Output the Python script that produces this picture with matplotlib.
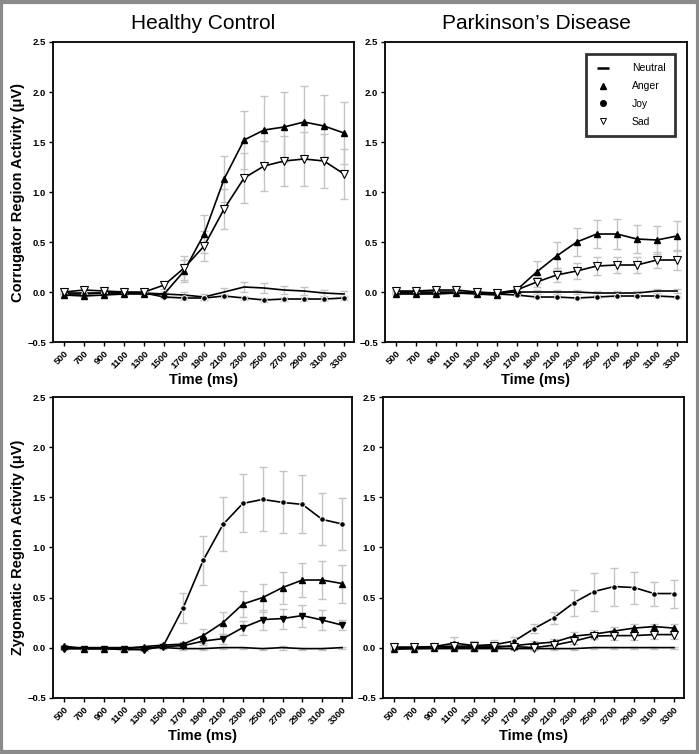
# Facial EMG time courses: corrugator / zygomatic, healthy control vs PD

import matplotlib
matplotlib.use("Agg")
import matplotlib.pyplot as plt
from matplotlib.lines import Line2D
from matplotlib.patches import Rectangle

plt.rcParams['font.family'] = ['Liberation Sans', 'DejaVu Sans']

time_ms = [500, 700, 900, 1100, 1300, 1500, 1700, 1900,
           2100, 2300, 2500, 2700, 2900, 3100, 3300]

# Healthy control, corrugator
hc_corr_neutral = [-0.01, -0.01, -0.01, -0.01, -0.01, -0.02, -0.03, -0.05,
                   0.00, 0.05, 0.04, 0.02, 0.01, -0.01, -0.02]
hc_corr_neutral_se = [0.01, 0.01, 0.01, 0.01, 0.01, 0.02, 0.03, 0.03,
                      0.04, 0.05, 0.05, 0.04, 0.04, 0.03, 0.03]
hc_corr_anger = [-0.03, -0.04, -0.03, -0.02, -0.02, -0.02, 0.21, 0.58,
                 1.13, 1.52, 1.62, 1.65, 1.70, 1.66, 1.59]
hc_corr_anger_se = [0.01, 0.01, 0.01, 0.01, 0.01, 0.02, 0.11, 0.19,
                    0.23, 0.29, 0.34, 0.35, 0.36, 0.31, 0.31]
hc_corr_joy = [-0.02, -0.02, -0.01, -0.01, -0.01, -0.05, -0.06, -0.06,
               -0.04, -0.06, -0.08, -0.07, -0.07, -0.07, -0.06]
hc_corr_joy_se = [0.01, 0.01, 0.01, 0.01, 0.01, 0.01, 0.02, 0.02,
                  0.02, 0.02, 0.02, 0.02, 0.02, 0.02, 0.02]
hc_corr_sad = [0.00, 0.02, 0.01, 0.00, 0.00, 0.07, 0.24, 0.46,
               0.83, 1.14, 1.26, 1.31, 1.33, 1.31, 1.18]
hc_corr_sad_se = [0.01, 0.02, 0.02, 0.02, 0.02, 0.04, 0.12, 0.15,
                  0.20, 0.25, 0.25, 0.25, 0.27, 0.27, 0.25]

# Parkinson's disease, corrugator
pd_corr_neutral = [0.00, 0.00, 0.00, 0.00, -0.01, -0.01, 0.00, 0.00,
                   0.00, 0.00, -0.01, -0.01, -0.01, 0.01, 0.01]
pd_corr_neutral_se = [0.01, 0.01, 0.01, 0.01, 0.01, 0.01, 0.01, 0.02,
                      0.02, 0.02, 0.02, 0.02, 0.02, 0.02, 0.02]
pd_corr_anger = [-0.02, -0.02, -0.02, -0.01, -0.02, -0.03, 0.02, 0.20,
                 0.36, 0.50, 0.58, 0.58, 0.53, 0.52, 0.56]
pd_corr_anger_se = [0.01, 0.01, 0.01, 0.01, 0.01, 0.01, 0.02, 0.11,
                    0.14, 0.14, 0.14, 0.15, 0.14, 0.14, 0.15]
pd_corr_joy = [-0.01, -0.01, -0.01, -0.01, -0.01, -0.02, -0.03, -0.05,
               -0.05, -0.06, -0.05, -0.04, -0.04, -0.04, -0.05]
pd_corr_joy_se = [0.01, 0.01, 0.01, 0.01, 0.01, 0.01, 0.01, 0.01,
                  0.01, 0.01, 0.01, 0.01, 0.01, 0.01, 0.01]
pd_corr_sad = [0.01, 0.01, 0.02, 0.02, 0.00, -0.01, 0.02, 0.10,
               0.17, 0.21, 0.26, 0.27, 0.27, 0.32, 0.32]
pd_corr_sad_se = [0.01, 0.01, 0.02, 0.02, 0.01, 0.01, 0.02, 0.05,
                  0.07, 0.08, 0.09, 0.08, 0.08, 0.08, 0.10]

# Healthy control, zygomatic
hc_zyg_neutral = [0.00, 0.00, 0.00, 0.00, 0.00, 0.00, -0.01, -0.01,
                  0.00, 0.00, -0.01, 0.00, -0.01, -0.01, 0.00]
hc_zyg_neutral_se = [0.01, 0.01, 0.01, 0.01, 0.01, 0.01, 0.01, 0.01,
                     0.01, 0.01, 0.01, 0.02, 0.01, 0.01, 0.01]
hc_zyg_anger = [0.015, -0.01, -0.01, -0.01, 0.01, 0.025, 0.035, 0.12,
                0.25, 0.435, 0.50, 0.60, 0.675, 0.675, 0.64]
hc_zyg_anger_se = [0.01, 0.01, 0.01, 0.01, 0.01, 0.01, 0.02, 0.07,
                   0.11, 0.13, 0.14, 0.16, 0.17, 0.19, 0.19]
hc_zyg_joy = [-0.01, -0.01, -0.01, -0.02, -0.02, 0.02, 0.40, 0.87,
              1.23, 1.44, 1.48, 1.45, 1.43, 1.28, 1.235]
hc_zyg_joy_se = [0.01, 0.01, 0.01, 0.01, 0.01, 0.02, 0.15, 0.245,
                 0.27, 0.29, 0.32, 0.31, 0.29, 0.26, 0.26]
hc_zyg_sad = [-0.01, -0.01, -0.01, -0.01, -0.02, 0.01, 0.02, 0.065,
              0.09, 0.20, 0.28, 0.29, 0.32, 0.275, 0.225]
hc_zyg_sad_se = [0.01, 0.01, 0.01, 0.01, 0.01, 0.01, 0.02, 0.04,
                 0.05, 0.07, 0.10, 0.10, 0.11, 0.10, 0.05]

# Parkinson's disease, zygomatic
pd_zyg_neutral = [-0.01, -0.01, -0.01, -0.01, -0.01, -0.01, -0.01, -0.01,
                  -0.01, -0.01, 0.00, 0.00, 0.00, 0.00, 0.00]
pd_zyg_neutral_se = [0.01, 0.01, 0.01, 0.01, 0.01, 0.01, 0.01, 0.01,
                     0.01, 0.01, 0.01, 0.01, 0.01, 0.01, 0.01]
pd_zyg_anger = [-0.015, -0.01, -0.005, 0.00, 0.00, 0.00, 0.02, 0.04,
                0.055, 0.115, 0.135, 0.165, 0.195, 0.21, 0.195]
pd_zyg_anger_se = [0.01, 0.01, 0.01, 0.01, 0.01, 0.01, 0.02, 0.03,
                   0.03, 0.04, 0.04, 0.04, 0.04, 0.03, 0.04]
pd_zyg_joy = [0.00, 0.00, 0.01, 0.045, 0.02, 0.03, 0.065, 0.19,
              0.30, 0.45, 0.56, 0.61, 0.60, 0.54, 0.54]
pd_zyg_joy_se = [0.01, 0.01, 0.02, 0.065, 0.05, 0.05, 0.04, 0.045,
                 0.06, 0.13, 0.19, 0.19, 0.16, 0.12, 0.14]
pd_zyg_sad = [0.005, 0.005, 0.01, 0.015, 0.015, 0.015, 0.01, 0.00,
              0.025, 0.065, 0.115, 0.12, 0.12, 0.13, 0.13]
pd_zyg_sad_se = [0.01, 0.01, 0.01, 0.01, 0.01, 0.01, 0.01, 0.02,
                 0.03, 0.03, 0.03, 0.04, 0.04, 0.04, 0.04]

ERR_COLOR = '#c4c4c4'


def draw_panel(ax, neutral, anger, joy, sad, sad_filled=False):
    """Draw the four emotion curves with light grey error bars."""
    for mean, se in (neutral, anger, joy, sad):
        ax.errorbar(time_ms, mean, yerr=se, fmt='none', ecolor=ERR_COLOR,
                    elinewidth=1.0, capsize=2.8, capthick=1.0, zorder=1)

    ax.plot(time_ms, neutral[0], color='black', lw=1.2, zorder=2)
    ax.plot(time_ms, joy[0], color='black', lw=1.2, marker='o', ms=4,
            mec='white', mew=0.7, zorder=3)
    ax.plot(time_ms, anger[0], color='black', lw=1.2, marker='^', ms=4.8,
            zorder=4)
    if sad_filled:
        ax.plot(time_ms, sad[0], color='black', lw=1.2, marker='v', ms=5,
                zorder=5)
    else:
        ax.plot(time_ms, sad[0], color='black', lw=1.2, marker='v', ms=5.8,
                mfc='white', mec='black', mew=0.8, zorder=5)

    ax.set_xlim(387, 3400)
    ax.set_ylim(-0.5, 2.5)
    ax.set_xticks(time_ms)
    ax.set_xticklabels([str(t) for t in time_ms], rotation=45,
                       ha='right', rotation_mode='anchor')
    ax.set_yticks([-0.5, 0.0, 0.5, 1.0, 1.5, 2.0, 2.5])
    ax.tick_params(direction='out', length=3, width=1, labelsize=6.8,
                   pad=2)
    for lab in ax.get_xticklabels() + ax.get_yticklabels():
        lab.set_fontweight('bold')
    for sp in ax.spines.values():
        sp.set_linewidth(1.3)
    ax.set_xlabel('Time (ms)', fontsize=10.5, fontweight='bold', labelpad=2)


fig = plt.figure(figsize=(6.99, 7.54), dpi=100)

ax_tl = fig.add_axes([0.0758, 0.5464, 0.4306, 0.3979])
ax_tr = fig.add_axes([0.5508, 0.5464, 0.4320, 0.3979])
ax_bl = fig.add_axes([0.0758, 0.0747, 0.4278, 0.3984])
ax_br = fig.add_axes([0.5479, 0.0747, 0.4306, 0.3984])

draw_panel(ax_tl, (hc_corr_neutral, hc_corr_neutral_se),
           (hc_corr_anger, hc_corr_anger_se),
           (hc_corr_joy, hc_corr_joy_se), (hc_corr_sad, hc_corr_sad_se))
draw_panel(ax_tr, (pd_corr_neutral, pd_corr_neutral_se),
           (pd_corr_anger, pd_corr_anger_se),
           (pd_corr_joy, pd_corr_joy_se), (pd_corr_sad, pd_corr_sad_se))
draw_panel(ax_bl, (hc_zyg_neutral, hc_zyg_neutral_se),
           (hc_zyg_anger, hc_zyg_anger_se),
           (hc_zyg_joy, hc_zyg_joy_se), (hc_zyg_sad, hc_zyg_sad_se),
           sad_filled=True)
draw_panel(ax_br, (pd_zyg_neutral, pd_zyg_neutral_se),
           (pd_zyg_anger, pd_zyg_anger_se),
           (pd_zyg_joy, pd_zyg_joy_se), (pd_zyg_sad, pd_zyg_sad_se))

ax_tl.set_title('Healthy Control', fontsize=15, pad=9)
ax_tr.set_title('Parkinson\u2019s Disease', fontsize=15, pad=9)
ax_tl.set_ylabel('Corrugator Region Activity (\u03bcV)', fontsize=10.5,
                 fontweight='bold', labelpad=2)
ax_bl.set_ylabel('Zygomatic Region Activity (\u03bcV)', fontsize=10.5,
                 fontweight='bold', labelpad=2)

# legend in the PD corrugator panel
leg_handles = [
    Line2D([], [], lw=0, marker='_', ms=8, mew=1.8, color='black'),
    Line2D([], [], lw=0, marker='^', ms=4.5, color='black'),
    Line2D([], [], lw=0, marker='o', ms=4, color='black'),
    Line2D([], [], lw=0, marker='v', ms=5, mfc='white', mec='black',
           mew=0.7),
]
leg = ax_tr.legend(leg_handles, ['Neutral', 'Anger', 'Joy', 'Sad'],
                   loc='upper right', bbox_to_anchor=(0.96, 0.96),
                   fontsize=7.5, frameon=True, fancybox=False,
                   handlelength=1.5, handletextpad=2.0, labelspacing=0.75,
                   borderpad=0.9, borderaxespad=0)
leg.get_frame().set_edgecolor('black')
leg.get_frame().set_linewidth(2)

# grey frame around the whole figure
fig.patches.append(Rectangle((0.002, 0.002), 0.996, 0.996,
                             transform=fig.transFigure, fill=False,
                             edgecolor='#8a8a8a', linewidth=3))

fig.savefig('out.png', dpi=100)
